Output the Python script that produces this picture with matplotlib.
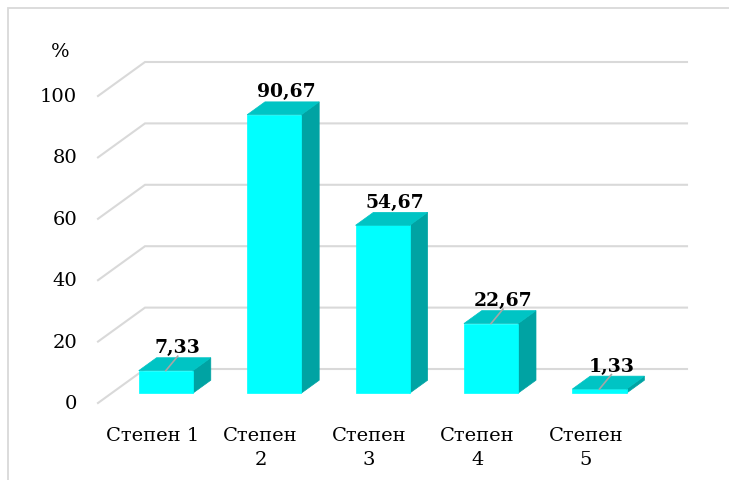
"""
Стълбовидна диаграма с псевдо-3D стълбове (степени, %).
"""

import matplotlib
matplotlib.use("Agg")
import matplotlib.pyplot as plt
from matplotlib.patches import Polygon, Rectangle

categorii = ["Степен 1", "Степен\n2", "Степен\n3", "Степен\n4", "Степен\n5"]
procenti = [7.33, 90.67, 54.67, 22.67, 1.33]
etiketi = ["7,33", "90,67", "54,67", "22,67", "1,33"]
skala = [0, 20, 40, 60, 80, 100]

W, H = 729, 481
PX_KAT = 108.4      # пиксели за една категория
PX_ED = 3.07        # пиксели за една единица (%)
X0, Y0 = 98, 404    # преден ляв ъгъл на пода, в пиксели
DX = 47 / PX_KAT    # дълбочина по x
DY = 34 / PX_ED     # дълбочина по y

LICE = "#00FFFF"
GORE = "#00C4C4"
STRANA = "#00A3A3"
MREZA = "#D9D9D9"
SHRIFT = "DejaVu Serif"


def proj(x, v, d):
    return (x + d * DX, v + d * DY)


fig = plt.figure(figsize=(W / 100, H / 100), dpi=100)
ax = fig.add_axes([0, 0, 1, 1])
ax.set_xlim(-X0 / PX_KAT, (W - X0) / PX_KAT)
ax.set_ylim(-(H - Y0) / PX_ED, Y0 / PX_ED)
ax.axis("off")

# рамка на областта на диаграмата
fig.patches.append(Rectangle((8 / W, -0.05), 1.1, 1 - 9 / H + 0.05,
                             transform=fig.transFigure, fill=False,
                             edgecolor=MREZA, lw=1.3))

# мрежа: странична и задна стена
n = len(procenti)
for v in skala:
    a, b = proj(0, v, 0), proj(0, v, 1)
    c = proj(n, v, 1)
    ax.plot([a[0], b[0], c[0]], [a[1], b[1], c[1]], color=MREZA, lw=1.5,
            zorder=1, solid_joinstyle="miter")
    ax.text(-21 / PX_KAT, v, str(v), ha="right", va="center",
            fontsize=14, family=SHRIFT)

ax.text(-38 / PX_KAT, (Y0 - 52) / PX_ED, "%", ha="center", va="center",
        fontsize=14, family=SHRIFT)

d0, d1 = 0.29, 0.67
for i, val in enumerate(procenti):
    xc = i + 0.5
    l, r = xc - 0.25, xc + 0.25
    lice = [proj(l, 0, d0), proj(r, 0, d0), proj(r, val, d0), proj(l, val, d0)]
    gore = [proj(l, val, d0), proj(r, val, d0), proj(r, val, d1), proj(l, val, d1)]
    strana = [proj(r, 0, d0), proj(r, 0, d1), proj(r, val, d1), proj(r, val, d0)]
    for pts, col in [(strana, STRANA), (lice, LICE), (gore, GORE)]:
        ax.add_patch(Polygon(pts, closed=True, facecolor=col, edgecolor=col,
                             lw=0.5, zorder=3))

    # етикет над горната страна
    cx, cy = proj(xc, val, (d0 + d1) / 2)
    lx, ly = cx + 3 / PX_KAT, cy + 17 / PX_ED
    ax.text(lx, ly, etiketi[i], ha="center", va="center", fontsize=13.5,
            fontweight="bold", family=SHRIFT, zorder=5)
    if val < 50:
        fx, fy = proj(xc, val, d0)
        ax.plot([fx, lx], [fy, ly - 9 / PX_ED], color="#A6A6A6", lw=1.2,
                zorder=4)

    ax.text(i + 0.5, -(427 - Y0) / PX_ED, categorii[i], ha="center", va="top",
            fontsize=14, family=SHRIFT, linespacing=1.4)

fig.savefig("out.png", dpi=100)
